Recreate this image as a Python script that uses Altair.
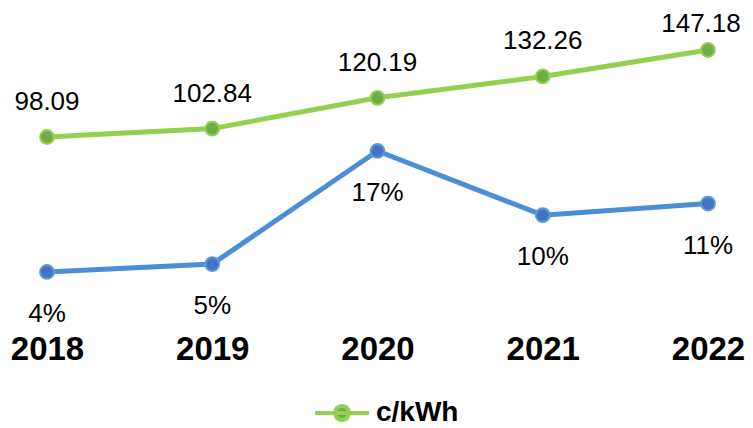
import altair as alt
import pandas as pd

years = ["2018", "2019", "2020", "2021", "2022"]
price = [98.09, 102.84, 120.19, 132.26, 147.18]
price_labels = ["98.09", "102.84", "120.19", "132.26", "147.18"]
growth = [4.0, 4.84, 16.87, 10.04, 11.28]
growth_labels = ["4%", "5%", "17%", "10%", "11%"]
series_name = ["c/kWh"] * 5

df = pd.DataFrame({
    "year": years,
    "price": price,
    "plabel": price_labels,
    "growth": growth,
    "glabel": growth_labels,
    "series": series_name,
})

FONT = "Liberation Sans"
GREEN_LINE = "#92D050"
GREEN_FILL = "#70AD47"
BLUE_LINE = "#4A8ED8"
BLUE_FILL = "#4472C4"
BLUE_STROKE = "#5B9BD5"

x_enc = alt.X(
    "year:N",
    sort=years,
    scale=alt.Scale(padding=0),
    axis=alt.Axis(
        title=None, domain=False, ticks=False, tickSize=0, grid=False,
        labelFont=FONT, labelFontSize=33, labelFontWeight="bold",
        labelColor="#000000", labelAngle=0, labelBaseline="alphabetic",
        labelPadding=59,
    ),
)

y_green = alt.Y("price:Q", scale=alt.Scale(domain=[6.12, 164.11], nice=False, zero=False), axis=None)
y_blue = alt.Y("growth:Q", scale=alt.Scale(domain=[1.02, 30.80], nice=False, zero=False), axis=None)

legend_path = "M-1,0L1,0M-0.26,0A0.26,0.26 0 1 1 0.26,0A0.26,0.26 0 1 1 -0.26,0Z"

base = alt.Chart(df)

g_line = base.mark_line(color=GREEN_LINE, strokeWidth=5).encode(x=x_enc, y=y_green)
g_point = base.mark_point(filled=True, size=190, opacity=1, stroke=GREEN_LINE, strokeWidth=2).encode(
    x=x_enc, y=y_green,
    color=alt.Color(
        "series:N",
        scale=alt.Scale(domain=["c/kWh"], range=[GREEN_FILL]),
        legend=alt.Legend(
            title=None, orient="none", legendX=266, legendY=364,
            direction="horizontal", padding=0,
            symbolType=legend_path, symbolSize=2916,
            symbolStrokeColor=GREEN_LINE, symbolStrokeWidth=4,
            symbolFillColor=GREEN_FILL, symbolOpacity=1,
            labelFont=FONT, labelFontSize=28, labelFontWeight="bold",
            labelColor="#000000", labelOffset=5,
        ),
    ),
)
g_text = base.transform_filter(alt.datum.year != "2022").mark_text(
    font=FONT, fontSize=26, color="#000000", dy=-27, baseline="alphabetic", align="center"
).encode(x=x_enc, y=y_green, text="plabel:N")
g_text_last = base.transform_filter(alt.datum.year == "2022").mark_text(
    font=FONT, fontSize=26, color="#000000", dy=-18, dx=-7, baseline="alphabetic", align="center"
).encode(x=x_enc, y=y_green, text="plabel:N")

b_line = base.mark_line(color=BLUE_LINE, strokeWidth=5).encode(x=x_enc, y=y_blue)
b_point = base.mark_point(filled=True, size=190, opacity=1, fill=BLUE_FILL, stroke=BLUE_STROKE, strokeWidth=2).encode(
    x=x_enc, y=y_blue
)
b_text = base.mark_text(
    font=FONT, fontSize=26, color="#000000", dy=50, baseline="alphabetic", align="center"
).encode(x=x_enc, y=y_blue, text="glabel:N")

green = alt.layer(g_line, g_point, g_text, g_text_last)
blue = alt.layer(b_line, b_point, b_text)

chart = alt.layer(green, blue).resolve_scale(y="independent").properties(
    width=661,
    height=280,
    background="white",
    autosize=alt.AutoSizeParams(type="none"),
    padding={"left": 39, "top": 12, "right": 37, "bottom": 128},
).configure_view(strokeWidth=0, stroke="transparent")

chart.save("out.html", embed_options={"renderer": "svg", "actions": False})
